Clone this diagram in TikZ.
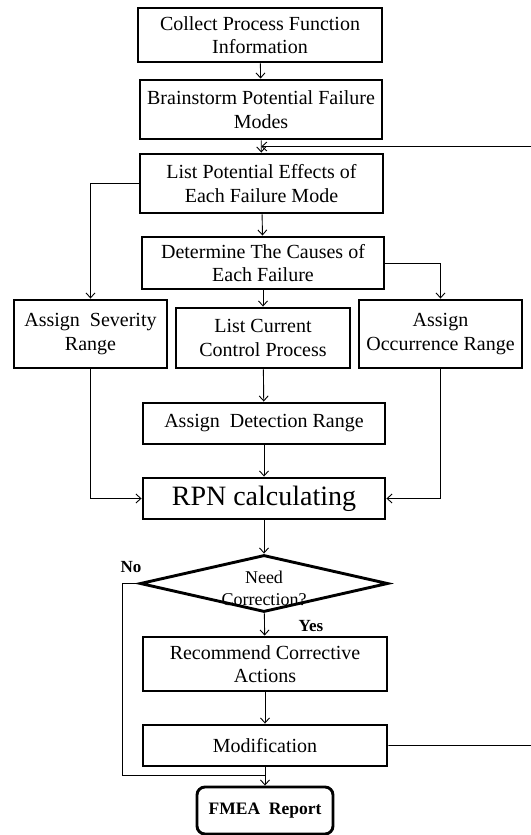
\documentclass[tikz,border=0pt]{standalone}
\usepackage{fontspec}
\setmainfont{Liberation Serif}
\usetikzlibrary{shapes.geometric,arrows.meta,calc}

\begin{document}
\begin{tikzpicture}[x=1pt,y=-1pt,
        box/.style={draw,line width=2.9pt,align=center,inner sep=0pt,font=\fontsize{20}{23.5}\selectfont},
        link/.style={line width=0.9pt},
        >={Straight Barb[length=5pt,width=9pt]}]
        \useasboundingbox (0,0) rectangle (530,835);

        \node[box,minimum width=244,minimum height=54] (collect) at (260,35) {Collect Process Function\\Information};
        \node[box,minimum width=242,minimum height=59] (brain) at (261,109.5) {Brainstorm Potential Failure\\Modes};
        \node[box,minimum width=243,minimum height=59] (effects) at (261.5,183.5) {List Potential Effects of\\Each Failure Mode};
        \node[box,minimum width=242,minimum height=52] (causes) at (263,263) {Determine The Causes of\\Each Failure};

        \node[box,minimum width=153,minimum height=68] (sev) at (90.5,334) {Assign\ \ Severity\\Range};
        \node[box,minimum width=174,minimum height=60] (ctrl) at (263,338) {List Current\\Control Process};
        \node[box,minimum width=163,minimum height=68] (occ) at (440.5,334) {Assign\\Occurrence Range};

        \node[box,minimum width=242,minimum height=41] (detect) at (264,423.5) {Assign\ \ Detection Range};
        \node[box,minimum width=242,minimum height=41,font=\fontsize{28}{32}\selectfont] (rpn) at (264,498.5) {RPN calculating};

        \node[draw,diamond,line width=2.9pt,inner sep=0pt,minimum width=248,minimum height=57,
            label={[align=center,yshift=-5pt,font=\fontsize{18}{22}\selectfont]center:Need\\Correction?}] (need) at (264,583.5) {};
        \node[font=\fontsize{17}{20}\selectfont\bfseries] (no) at (131,567) {No};
        \node[font=\fontsize{17}{20}\selectfont\bfseries] (yes) at (311,626) {Yes};

        \node[box,minimum width=244,minimum height=54] (recommend) at (265,664) {Recommend Corrective\\Actions};
        \node[box,minimum width=244,minimum height=41] (modif) at (265,745.5) {Modification};
        \node[box,rounded corners=8pt,minimum width=136,minimum height=47,font=\fontsize{17.5}{20}\selectfont\bfseries] (report) at (265,810.5) {FMEA\ \ Report};

        \coordinate (back) at ($(brain.south)!0.5!(effects.north)$);
        \coordinate (join) at (265,775);

        % main line
        \draw[link,->] (collect) -- (brain);
        \draw[link,->] (brain) -- (effects);
        \draw[link,->] (effects) -- (causes);
        \draw[link,->] (causes) -- (ctrl);
        \draw[link,->] (ctrl) -- (detect);
        \draw[link,->] (detect) -- (rpn);
        \draw[link,->] (rpn) -- (need);
        \draw[link,->] (need) -- (recommend);
        \draw[link,->] (recommend) -- (modif);
        \draw[link,->] (modif) -- (report);

        % side branches
        \draw[link,->] (effects.west) -| (sev.north);
        \draw[link,->] (causes.east) -| (occ.north);
        \draw[link,->] (sev.south) |- (rpn.west);
        \draw[link,->] (occ.south) |- (rpn.east);

        % loops
        \draw[link] (need.west) -- ++(-16,0) |- (join);
        \draw[link,->] (modif.east) -- (533,745.5) -- (533,146.5) -- (back);

    \end{tikzpicture}
\end{document}
